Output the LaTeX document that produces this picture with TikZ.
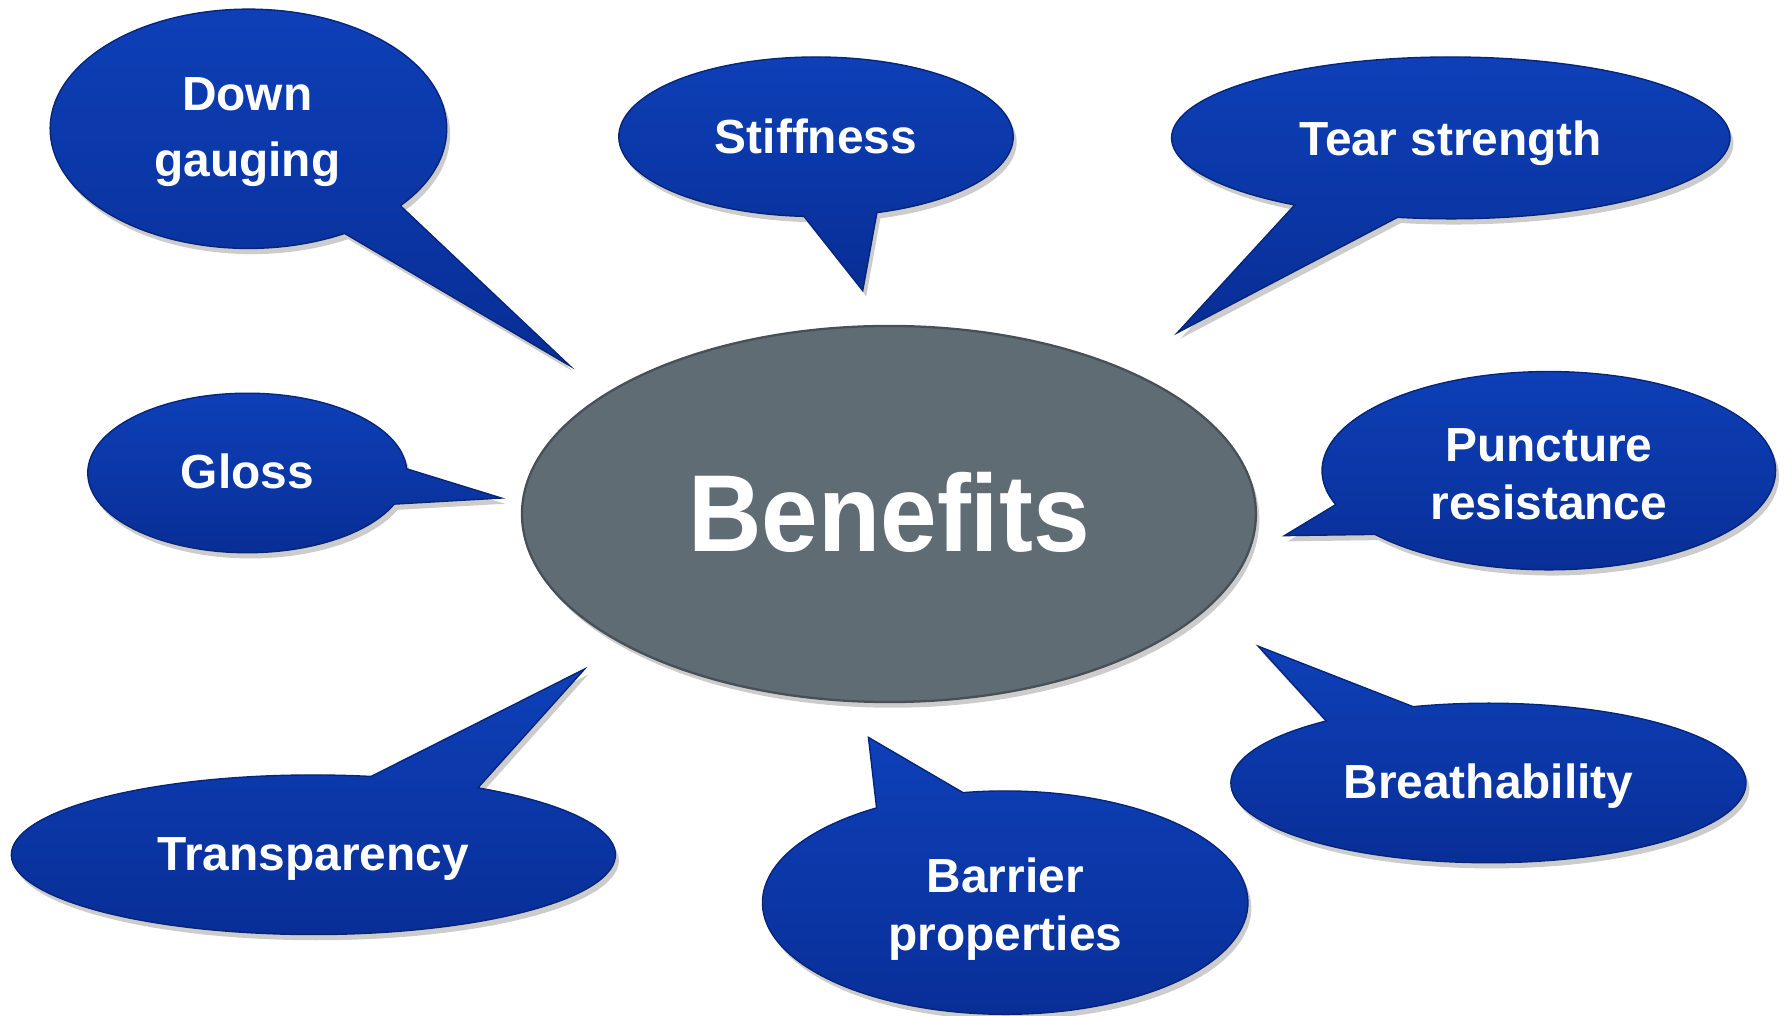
\documentclass[tikz,border=0pt]{standalone}
\usepackage{fontspec}
\setmainfont{Liberation Sans}
\usetikzlibrary{shadows}
\definecolor{bubtop}{RGB}{14,64,184}
\definecolor{bubbot}{RGB}{8,46,150}
\definecolor{bubedge}{RGB}{6,36,120}
\definecolor{hubfill}{RGB}{95,108,116}
\definecolor{hubedge}{RGB}{70,80,86}
\tikzset{
  bubble/.style={top color=bubtop, bottom color=bubbot, draw=bubedge, line width=0.6pt,
    drop shadow={shadow xshift=1.5pt, shadow yshift=-2.5pt, opacity=0.2, fill=black}},
  hub/.style={fill=hubfill, draw=hubedge, line width=1pt,
    drop shadow={shadow xshift=1.5pt, shadow yshift=-2.5pt, opacity=0.2, fill=black}},
  lbl/.style={text=white, align=center, font=\bfseries\fontsize{21}{25.5}\selectfont, inner sep=0pt},
  hublbl/.style={text=white, font=\bfseries\fontsize{48}{52}\selectfont, inner sep=0pt}
}
% cx, cy, rx, ry, start angle, end angle, tip x, tip y
\newcommand\spbubble[8]{%
  \path[bubble] (#1,#2) ++(#5:#3 and #4) arc[start angle=#5, end angle=#6, x radius=#3, y radius=#4] -- (#7,#8) -- cycle;}
\begin{document}
\begin{tikzpicture}[x=0.5pt, y=0.5pt]
\useasboundingbox (0,0) rectangle (1568,891);
% central ellipse
\path[hub] (780,440) ellipse[x radius=322, y radius=165];
\node[hublbl] (benefits) at (780,441) {\scalebox{0.93}[1]{Benefits}};
% Down gauging
\spbubble{218}{778}{174}{105}{-40}{299}{500}{570}
\node[lbl] (down) at (217,775) {Down\\[3.5pt]gauging};
% Stiffness
\spbubble{716}{771}{173}{70}{-72}{266.5}{757}{636}
\node[lbl] (stiff) at (716,771) {Stiffness};
% Tear strength
\spbubble{1273}{770}{245}{71}{-101}{236}{1033}{599}
\node[lbl] (tear) at (1273,765) {Tear strength};
% Gloss
\spbubble{217}{476}{140}{70}{3}{337}{440}{454}
\node[lbl] (gloss) at (217,477) {Gloss};
% Puncture resistance
\spbubble{1359}{478}{199}{87}{220}{560}{1127}{421}
\node[lbl] (punct) at (1359,475) {Puncture\\resistance};
% Transparency
\spbubble{275}{141}{265}{70}{79}{417}{513}{304}
\node[lbl] (transp) at (275,137) {Transparency};
% Barrier properties
\spbubble{882}{99}{213}{98}{122}{460}{762}{244}
\node[lbl] (barrier) at (882,93) {Barrier\\properties};
% Breathability
\spbubble{1306}{204}{226}{70}{129}{467}{1104}{324}
\node[lbl] (breath) at (1306,201) {Breathability};
\end{tikzpicture}
\end{document}
